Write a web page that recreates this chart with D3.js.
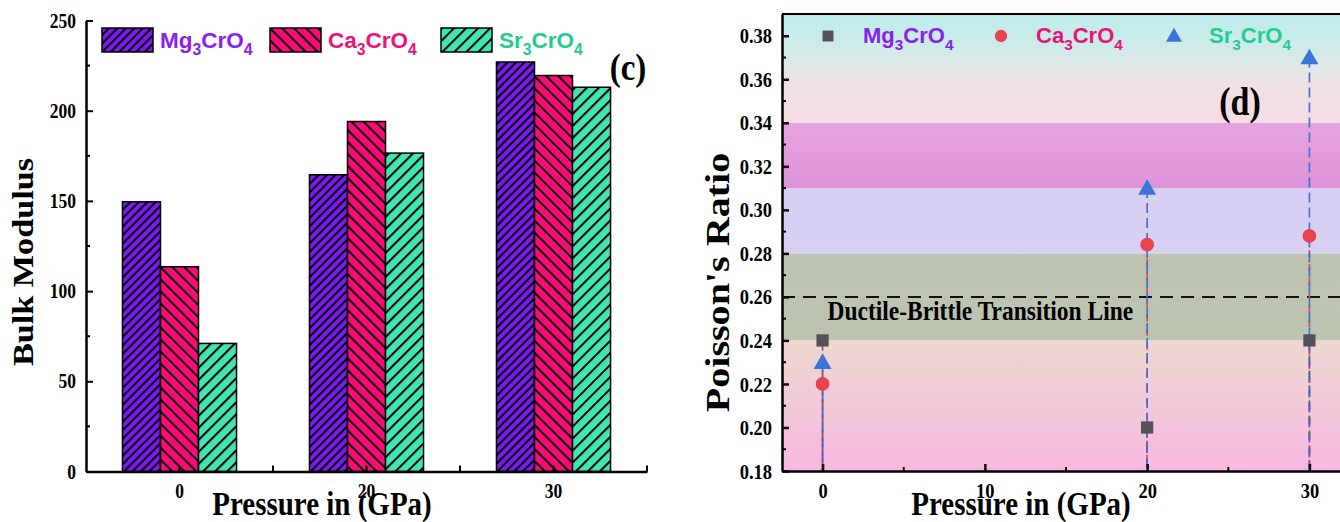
<!DOCTYPE html>
<html>
<head>
<meta charset="utf-8">
<script src="https://cdn.jsdelivr.net/npm/d3@7"></script>
<style>
  html, body { margin: 0; padding: 0; background: #fff; }
  svg { display: block; }
  .serif { font-family: "Liberation Serif", "DejaVu Serif", serif; font-weight: bold; }
  .sans { font-family: "Liberation Sans", Arial, sans-serif; font-weight: bold; }
  /* glyphs in this figure are drawn slightly tall and narrow */
  .tall { transform-box: fill-box; transform-origin: center; transform: scaleY(1.18); }
  .long { transform-box: fill-box; transform-origin: center; transform: scaleX(1.18); }
</style>
</head>
<body>
<svg id="chart" width="1340" height="522"></svg>
<script>
// ---- data -------------------------------------------------------------
const pressureCats = ["0", "20", "30"];
const compounds = ["Mg3CrO4", "Ca3CrO4", "Sr3CrO4"];

// bulk modulus per compound, one value per pressure
const bulkMg = [149.5, 164.5, 227];
const bulkCa = [113.5, 194, 219.5];
const bulkSr = [71, 176.5, 213];
const bulkTicks = [0, 50, 100, 150, 200, 250];

// Poisson's ratio per compound
const pressureGPa = [0, 20, 30];
const poissonMg = [0.24, 0.20, 0.24];
const poissonCa = [0.22, 0.284, 0.288];
const poissonSr = [0.23, 0.31, 0.37];
const poissonTicks = [0.18, 0.20, 0.22, 0.24, 0.26, 0.28, 0.30, 0.32, 0.34, 0.36, 0.38];
const pressureTicks = [0, 10, 20, 30];
const transitionValue = 0.26;
const zoneEdges = [0.18, 0.24, 0.28, 0.31, 0.34, 0.39];

// ---- styles -----------------------------------------------------------
const barFill = ["#7d17f2", "#fb0a78", "#3fe6b1"];
const textFill = ["#8a22ee", "#ec1279", "#25cc92"];
const hatchGap = [6, 8.5, 8.5];
const hatchAngle = [45, -45, 45];
const markerFill = ["#545256", "#e8434f", "#3b76d6"];
const lineStroke = ["#5a5a66", "#e8434f", "#3b6fd8"];
// vertical gradient stops for each zone (bottom colour first)
const zoneStops = [
  [[0, "#f8b8df"], [0.5, "#f2c9d8"], [1, "#eed7d1"]],
  [[0, "#bcc4b0"], [1, "#bdc3b1"]],
  [[0, "#d9d1f2"], [1, "#d7cff4"]],
  [[0, "#de93d9"], [1, "#e6a4e2"]],
  [[0, "#f5dce2"], [0.3, "#f1e0e4"], [0.45, "#e6e5e6"], [0.7, "#cfebe9"], [1, "#bcedeb"]]
];

const svg = d3.select("#chart");
const defs = svg.append("defs");

// formula text with subscript digits
function formula(sel, str, size) {
  const parts = str.match(/[A-Za-z]+|\d+/g);
  const shift = size * 0.3;
  let lowered = false;
  parts.forEach(p => {
    const isNum = /^\d+$/.test(p);
    let dy = 0;
    if (isNum && !lowered) { dy = shift; lowered = true; }
    else if (!isNum && lowered) { dy = -shift; lowered = false; }
    sel.append("tspan")
      .attr("font-size", isNum ? size * 0.7 : size)
      .attr("dy", dy)
      .text(p);
  });
}

// hatch patterns
compounds.forEach((c, i) => {
  const p = defs.append("pattern")
    .attr("id", "hatch" + i)
    .attr("patternUnits", "userSpaceOnUse")
    .attr("width", hatchGap[i]).attr("height", hatchGap[i])
    .attr("patternTransform", `rotate(${hatchAngle[i]})`);
  p.append("rect").attr("width", hatchGap[i]).attr("height", hatchGap[i]).attr("fill", barFill[i]);
  p.append("line").attr("x1", 1).attr("x2", 1).attr("y1", 0).attr("y2", hatchGap[i])
    .attr("stroke", "#000").attr("stroke-width", 2);
});

// ================= (c) Bulk modulus bar chart ==========================
const L = { left: 86, right: 647, top: 20.5, bottom: 471.5 };
const yBulk = d3.scaleLinear().domain([0, 250]).range([L.bottom, L.top]);
const xBand = d3.scaleBand().domain(pressureCats).range([L.left, L.right])
  .paddingInner(0.39).paddingOuter(0.195);
const xSub = d3.scaleBand().domain(compounds).range([0, xBand.bandwidth()]);
const bulkSeries = [bulkMg, bulkCa, bulkSr];

const gc = svg.append("g");
compounds.forEach((c, i) => {
  gc.selectAll(null).data(bulkSeries[i]).join("rect")
    .attr("x", (d, j) => xBand(pressureCats[j]) + xSub(c))
    .attr("y", d => yBulk(d))
    .attr("width", xSub.bandwidth())
    .attr("height", d => yBulk(0) - yBulk(d))
    .attr("fill", `url(#hatch${i})`)
    .attr("stroke", "#000").attr("stroke-width", 1.5);
});

// y axis
const yAxisC = d3.axisLeft(yBulk).tickValues(bulkTicks).tickSize(-7).tickSizeOuter(0).tickPadding(10).tickFormat(d3.format("d"));
const gyc = gc.append("g").attr("transform", `translate(${L.left},0)`).call(yAxisC);
gyc.append("g").selectAll("line").data(d3.range(25, 250, 50)).join("line")
  .attr("x1", 0).attr("x2", 4).attr("y1", d => yBulk(d)).attr("y2", d => yBulk(d))
  .attr("stroke", "#000").attr("stroke-width", 2);
// x axis
const xAxisC = d3.axisBottom(xBand).tickSize(-6).tickSizeOuter(0).tickPadding(13);
const gxc = gc.append("g").attr("transform", `translate(0,${L.bottom})`).call(xAxisC);
gxc.append("g").selectAll("line")
  .data([1, 2, 3].map(k => L.left + k * xBand.step()))
  .join("line").attr("x1", d => d).attr("x2", d => d).attr("y1", 0).attr("y2", -6)
  .attr("stroke", "#000").attr("stroke-width", 2);
[gyc, gxc].forEach(g => {
  g.select(".domain").attr("stroke", "#000").attr("stroke-width", 2.5);
  g.selectAll(".tick line").attr("stroke", "#000").attr("stroke-width", 2);
  g.selectAll("text").attr("class", "serif tall").attr("font-size", 17.5).attr("fill", "#000");
});

gc.append("g").attr("transform", `translate(33,${(L.top + L.bottom) / 2 + 16}) rotate(-90)`)
  .append("text").attr("class", "serif long").attr("font-size", 29)
  .attr("text-anchor", "middle").text("Bulk Modulus");
gc.append("text").attr("class", "serif tall").attr("font-size", 29)
  .attr("x", 322).attr("y", 513).attr("text-anchor", "middle").text("Pressure in (GPa)");
gc.append("text").attr("class", "serif tall").attr("font-size", 33)
  .attr("x", 628).attr("y", 78).attr("text-anchor", "middle").text("(c)");

// legend
const legC = gc.append("g");
const legX = [102, 270, 441];
compounds.forEach((c, i) => {
  legC.append("rect").attr("x", legX[i]).attr("y", 28).attr("width", 51).attr("height", 24)
    .attr("fill", `url(#hatch${i})`).attr("stroke", "#000").attr("stroke-width", 1.5);
  const t = legC.append("text").attr("class", "sans").attr("x", legX[i] + 58).attr("y", 48)
    .attr("fill", textFill[i]);
  formula(t, c, 22.5);
});

// ================= (d) Poisson's ratio chart ===========================
const R = { left: 782, right: 1350, top: 14, bottom: 471 };
const xP = d3.scaleLinear().domain([-2.5, 32.5]).range([R.left, R.right]);
const yP = d3.scaleLinear().domain([0.18, 0.39]).range([R.bottom, R.top]);

const gd = svg.append("g");
// background zones
zoneStops.forEach((stops, i) => {
  const g = defs.append("linearGradient").attr("id", "zone" + i)
    .attr("x1", 0).attr("x2", 0).attr("y1", 1).attr("y2", 0);
  stops.forEach(s => g.append("stop").attr("offset", s[0]).attr("stop-color", s[1]));
});
gd.selectAll(null).data(d3.pairs(zoneEdges)).join("rect")
  .attr("x", R.left).attr("width", R.right - R.left)
  .attr("y", d => yP(d[1])).attr("height", d => yP(d[0]) - yP(d[1]))
  .attr("fill", (d, i) => `url(#zone${i})`);

// transition line
gd.append("line")
  .attr("x1", R.left).attr("x2", R.right)
  .attr("y1", yP(transitionValue)).attr("y2", yP(transitionValue))
  .attr("stroke", "#111").attr("stroke-width", 2).attr("stroke-dasharray", "13,8");
gd.append("text").attr("class", "serif tall").attr("font-size", 23.5)
  .attr("x", xP(0.3)).attr("y", yP(transitionValue) + 22)
  .text("Ductile-Brittle Transition Line");

// drop lines and markers
const poissonSeries = [poissonMg, poissonCa, poissonSr];
poissonSeries.forEach((vals, i) => {
  gd.selectAll(null).data(vals).join("line")
    .attr("x1", (d, j) => xP(pressureGPa[j])).attr("x2", (d, j) => xP(pressureGPa[j]))
    .attr("y1", d => yP(d)).attr("y2", yP(0.18))
    .attr("stroke", lineStroke[i]).attr("stroke-width", 1.7)
    .attr("stroke-dasharray", i === 1 ? "7,7" : "10,5")
    .attr("opacity", 0.95);
});
const symbols = [d3.symbolSquare, d3.symbolCircle, d3.symbolTriangle];
const symSize = [150, 150, 140];
poissonSeries.forEach((vals, i) => {
  gd.selectAll(null).data(vals).join("path")
    .attr("d", d3.symbol(symbols[i], symSize[i]))
    .attr("transform", (d, j) => `translate(${xP(pressureGPa[j])},${yP(d) + (i === 2 ? 1.5 : 0)})`)
    .attr("fill", markerFill[i]);
});

// axes
const yAxisD = d3.axisLeft(yP).tickValues(poissonTicks).tickSize(-7).tickSizeOuter(0)
  .tickPadding(10).tickFormat(d3.format(".2f"));
const gyd = gd.append("g").attr("transform", `translate(${R.left},0)`).call(yAxisD);
gyd.append("g").selectAll("line").data(d3.range(0.19, 0.39, 0.02)).join("line")
  .attr("x1", 0).attr("x2", 4).attr("y1", d => yP(d)).attr("y2", d => yP(d))
  .attr("stroke", "#000").attr("stroke-width", 2);
const xAxisD = d3.axisBottom(xP).tickValues(pressureTicks).tickSize(-7).tickSizeOuter(0)
  .tickPadding(13).tickFormat(d3.format("d"));
const gxd = gd.append("g").attr("transform", `translate(0,${R.bottom})`).call(xAxisD);
gxd.append("g").selectAll("line").data([5, 15, 25]).join("line")
  .attr("x1", d => xP(d)).attr("x2", d => xP(d)).attr("y1", 0).attr("y2", -4)
  .attr("stroke", "#000").attr("stroke-width", 2);
[gyd, gxd].forEach(g => {
  g.select(".domain").attr("stroke", "#000").attr("stroke-width", 2.5);
  g.selectAll(".tick line").attr("stroke", "#1a0010").attr("stroke-width", 2.5);
  g.selectAll("text").attr("class", "serif tall").attr("font-size", 18.5).attr("fill", "#000");
});
// top frame
gd.append("line").attr("x1", R.left).attr("x2", R.right).attr("y1", R.top).attr("y2", R.top)
  .attr("stroke", "#000").attr("stroke-width", 2);

gd.append("g").attr("transform", `translate(729,${(R.top + R.bottom) / 2 + 40}) rotate(-90)`)
  .append("text").attr("class", "serif long").attr("font-size", 34)
  .attr("text-anchor", "middle").text("Poisson's Ratio");
gd.append("text").attr("class", "serif tall").attr("font-size", 29)
  .attr("x", 1021).attr("y", 513).attr("text-anchor", "middle").text("Pressure in (GPa)");
gd.append("text").attr("class", "serif tall").attr("font-size", 34)
  .attr("x", 1240).attr("y", 113).attr("text-anchor", "middle").text("(d)");

// legend
const legD = gd.append("g");
const legDX = [828, 1001, 1174];
compounds.forEach((c, i) => {
  legD.append("path").attr("d", d3.symbol(symbols[i], symSize[i] * 0.8))
    .attr("transform", `translate(${legDX[i]},${i === 2 ? 37 : 36})`).attr("fill", markerFill[i]);
  const t = legD.append("text").attr("class", "sans").attr("x", legDX[i] + 35).attr("y", 43)
    .attr("fill", textFill[i]);
  formula(t, c, 22);
});
</script>
</body>
</html>
